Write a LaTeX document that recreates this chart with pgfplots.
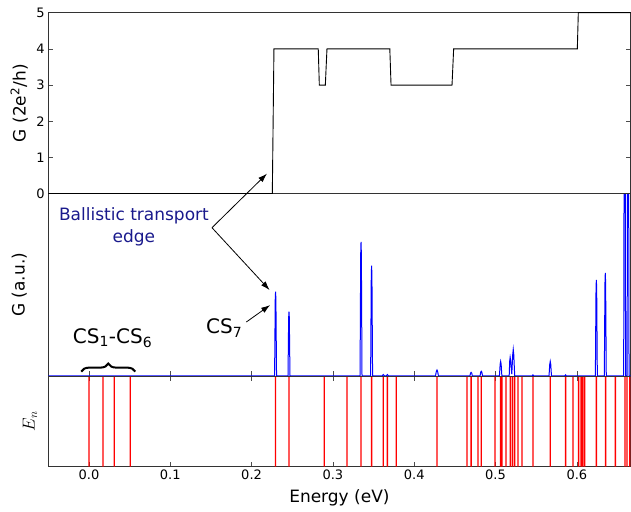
\documentclass[border=0pt]{standalone}
\usepackage{fontspec}
\setmainfont{DejaVu Sans}
\usepackage{pgfplots}
\pgfplotsset{compat=1.18}
\usetikzlibrary{arrows.meta,decorations.pathreplacing}
\definecolor{navy}{RGB}{25,25,140}
\definecolor{enred}{RGB}{255,0,0}
\begin{document}
\begin{tikzpicture}
\pgfplotsset{panel/.style={scale only axis, width=582.2pt, xmin=-0.05, xmax=0.666,
  tick align=inside, axis line style={line width=0.8pt, black!80},
  every tick/.style={black!70, line width=0.6pt}, major tick length=4.5pt,
  tick label style={font=\fontsize{13}{15}\selectfont},
  label style={font=\fontsize{17}{20}\selectfont},
  /pgf/number format/assume math mode=true}}
\useasboundingbox (-48.3pt,-44.3pt) rectangle (582.7pt,466.7pt);
% bottom panel: eigenenergies
\begin{axis}[panel, at={(0pt,0pt)}, anchor=south west, height=90.7pt,
  ymin=0, ymax=1, ytick=\empty,
  xtick={0,0.1,0.2,0.3,0.4,0.5,0.6},
  xticklabel style={/pgf/number format/.cd, fixed, fixed zerofill, precision=1},
  xtick pos=both, xticklabel pos=left,
  xlabel={Energy (eV)}, ylabel={$E_n$},
  xlabel style={at={(axis description cs:0.5,0)}, anchor=center, yshift=-31pt},
  ylabel style={at={(axis description cs:-0.0314,0.5)}, anchor=center}]
\addplot[ybar, bar width=1.3pt, fill=enred, draw=none, no marks] coordinates {
(0.0,1)(0.0172,1)(0.0311,1)(0.0508,1)(0.2295,1)(0.246,1)(0.2894,1)(0.3173,1)
(0.3346,1)(0.3476,1)(0.362,1)(0.367,1)(0.378,1)(0.428,1)(0.465,1)(0.470,1)
(0.4785,1)(0.4825,1)(0.4994,1)(0.5063,1)(0.508,1)(0.5129,1)(0.5182,1)(0.5207,1)
(0.5235,1)(0.5277,1)(0.5326,1)(0.546,1)(0.5673,1)(0.5862,1)(0.5953,1)(0.6022,1)
(0.6052,1)(0.6071,1)(0.6096,1)(0.624,1)(0.6354,1)(0.6474,1)(0.6593,1)(0.6617,1)
(0.665,1)};
\end{axis}
% middle panel: G (a.u.)
\begin{axis}[panel, at={(0pt,90.7pt)}, anchor=south west, height=182.3pt,
  ymin=0, ymax=1, ytick=\empty,
  xtick={0,0.1,0.2,0.3,0.4,0.5,0.6}, xticklabels={}, xtick pos=left,
  ylabel={G (a.u.)},
  ylabel style={at={(axis description cs:-0.0498,0.5)}, anchor=center}]
\addplot[blue, line width=1pt, no marks] coordinates {
(-0.05,0)
(0.2283,0)(0.2291,0.42)(0.2295,0.463)(0.2299,0.42)(0.2307,0)
(0.2448,0)(0.2456,0.32)(0.2460,0.353)(0.2464,0.32)(0.2472,0)
(0.3334,0)(0.3342,0.67)(0.3346,0.735)(0.3350,0.67)(0.3358,0)
(0.3464,0)(0.3472,0.55)(0.3476,0.606)(0.3480,0.55)(0.3488,0)
(0.3605,0)(0.3620,0.008)(0.3635,0)
(0.3655,0)(0.3670,0.008)(0.3685,0)
(0.4262,0)(0.4272,0.025)(0.4280,0.033)(0.4288,0.025)(0.4298,0)
(0.4685,0)(0.4693,0.016)(0.4700,0.020)(0.4707,0.016)(0.4715,0)
(0.4810,0)(0.4818,0.021)(0.4825,0.026)(0.4832,0.021)(0.4840,0)
(0.5048,0)(0.5057,0.065)(0.5063,0.080)(0.5069,0.065)(0.5078,0)
(0.5168,0)(0.5175,0.085)(0.5180,0.103)(0.5186,0.085)(0.5200,0.01)(0.5212,0.12)(0.5218,0.146)(0.5224,0.12)(0.5236,0)
(0.5450,0)(0.5460,0.006)(0.5470,0)
(0.5658,0)(0.5667,0.065)(0.5673,0.080)(0.5679,0.065)(0.5688,0)
(0.5852,0)(0.5862,0.006)(0.5872,0)
(0.6228,0)(0.6236,0.48)(0.6240,0.527)(0.6244,0.48)(0.6252,0)
(0.6338,0)(0.6346,0.51)(0.6350,0.565)(0.6354,0.51)(0.6362,0)
(0.6576,0)(0.6584,1.8)(0.6588,2)(0.6592,1.8)(0.6600,0)
(0.6618,0)(0.6626,1.8)(0.6630,2)(0.6634,1.8)(0.6642,0)
(0.666,0)};
\coordinate (T) at (axis cs:0.0553,0.817);
\coordinate (A0) at (axis cs:0.1513,0.8135);
\coordinate (A1) at (axis cs:0.2189,1.11);
\coordinate (A2) at (axis cs:0.2221,0.4717);
\coordinate (C7) at (axis cs:0.1664,0.263);
\coordinate (C7a) at (axis cs:0.1935,0.296);
\coordinate (C7b) at (axis cs:0.2228,0.389);
\coordinate (CS) at (axis cs:0.029,0.208);
\coordinate (B1) at (axis cs:-0.0095,0.024);
\coordinate (B2) at (axis cs:0.057,0.024);
\end{axis}
% top panel: G (2e^2/h)
\begin{axis}[panel, at={(0pt,273pt)}, anchor=south west, height=181pt,
  ymin=0, ymax=5, ytick={0,1,2,3,4,5}, ytick pos=both, yticklabel pos=left,
  xtick=\empty,
  ylabel={G (2e\textsuperscript{2}/h)},
  ylabel style={at={(axis description cs:-0.0498,0.5)}, anchor=center}]
\addplot[black, line width=0.9pt, no marks] coordinates {
(-0.05,0)(0.2255,0)(0.2275,4)(0.282,4)(0.2833,3)(0.2907,3)(0.2927,4)
(0.370,4)(0.3715,3)(0.4465,3)(0.4485,4)(0.6006,4)(0.6018,5)(0.666,5)};
\end{axis}
% annotations
\node[align=center, text=navy, font=\fontsize{17}{22}\selectfont] at (T) {Ballistic transport\\edge};
\draw[black, line width=0.8pt, -{Latex[length=9pt,width=6pt]}] (A0) -- (A1);
\draw[black, line width=0.8pt, -{Latex[length=9pt,width=6pt]}] (A0) -- (A2);
\node[font=\fontsize{20}{24}\selectfont] at (C7) {CS\textsubscript{7}};
\draw[black, line width=0.8pt, -{Latex[length=9pt,width=6pt]}] (C7a) -- (C7b);
\node[font=\fontsize{20}{24}\selectfont] at (CS) {CS\textsubscript{1}-CS\textsubscript{6}};
\draw[black, line width=2pt, decorate, decoration={brace, amplitude=8pt}] (B1) -- (B2);
\end{tikzpicture}
\end{document}
